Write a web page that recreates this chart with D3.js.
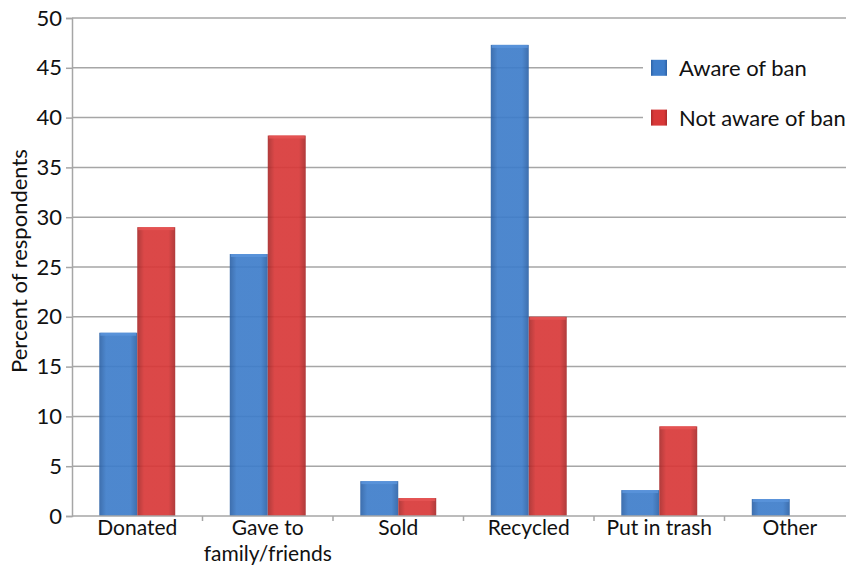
<!DOCTYPE html>
<html>
<head>
<meta charset="utf-8">
<script src="https://cdn.jsdelivr.net/npm/d3@7/dist/d3.min.js"></script>
<style>
  html, body { margin: 0; padding: 0; background: #fff; }
  svg { display: block; font-family: Lato, "Open Sans", sans-serif; }
</style>
</head>
<body>
<svg id="chart" width="846" height="566"></svg>
<script>
// Disposal method by awareness of the ban
const categories = ["Donated", "Gave to\nfamily/friends", "Sold", "Recycled", "Put in trash", "Other"];
const seriesNames = ["Aware of ban", "Not aware of ban"];
const awareValues = [18.4, 26.3, 3.5, 47.3, 2.6, 1.7];
const notAwareValues = [29.0, 38.2, 1.8, 20.0, 9.0, 0];
const yTicks = [0, 5, 10, 15, 20, 25, 30, 35, 40, 45, 50];

const svg = d3.select("#chart");
const margin = { left: 72, right: -9, top: 18, bottom: 50 };
const W = 846, H = 566;
const plotRight = W - margin.right;
const FS = 22;
const XFS = 21;

const x = d3.scaleBand().domain(categories).range([margin.left, plotRight])
  .paddingInner(0.418).paddingOuter(0.209);
const xs = d3.scaleBand().domain(seriesNames).range([0, x.bandwidth()]);
const y = d3.scaleLinear().domain([0, 50]).range([H - margin.bottom, margin.top]);

// Bar gradients
const defs = svg.append("defs");
function grad(id, edge, mid) {
  const g = defs.append("linearGradient").attr("id", id).attr("x1", 0).attr("x2", 1).attr("y1", 0).attr("y2", 0);
  g.append("stop").attr("offset", "0%").attr("stop-color", edge);
  g.append("stop").attr("offset", "18%").attr("stop-color", mid);
  g.append("stop").attr("offset", "82%").attr("stop-color", mid);
  g.append("stop").attr("offset", "100%").attr("stop-color", edge);
}
grad("gBlue", "#2d62a6", "#3e7dca");
grad("gRed", "#a92a2a", "#d83838");
const fills = { "Aware of ban": "url(#gBlue)", "Not aware of ban": "url(#gRed)" };
const tops = { "Aware of ban": "#5b95dc", "Not aware of ban": "#e65555" };

// Gridlines
svg.append("g").selectAll("line").data(yTicks.filter(d => d > 0)).join("line")
  .attr("x1", margin.left).attr("x2", W)
  .attr("y1", d => y(d)).attr("y2", d => y(d))
  .attr("stroke", "#a6a6a6").attr("stroke-width", 1.5);

// Bars
const rows = categories.map((c, i) => ({ cat: c, vals: [
  { s: seriesNames[0], v: awareValues[i] },
  { s: seriesNames[1], v: notAwareValues[i] }
] }));
const groups = svg.append("g").selectAll("g").data(rows).join("g")
  .attr("transform", d => `translate(${x(d.cat)},0)`);
const bars = groups.selectAll("g").data(d => d.vals.filter(e => e.v > 0)).join("g");
bars.append("rect")
  .attr("x", d => xs(d.s)).attr("width", xs.bandwidth())
  .attr("y", d => y(d.v)).attr("height", d => y(0) - y(d.v))
  .attr("fill", d => fills[d.s]).attr("opacity", 0.92);
bars.append("rect")
  .attr("x", d => xs(d.s) + 1).attr("width", xs.bandwidth() - 2)
  .attr("y", d => y(d.v)).attr("height", 3)
  .attr("fill", d => tops[d.s]).attr("opacity", 0.8);

// Y axis
const yAxis = svg.append("g").attr("transform", `translate(${margin.left},0)`)
  .call(d3.axisLeft(y).tickValues(yTicks).tickSize(6).tickPadding(4));
yAxis.select(".domain").attr("stroke", "#a6a6a6").attr("stroke-width", 1.5);
yAxis.selectAll(".tick line").attr("stroke", "#a6a6a6").attr("stroke-width", 1.5);
yAxis.selectAll("text").attr("font-size", FS).attr("fill", "#111").attr("font-family", "Lato, sans-serif");

// X axis
const xAxisY = y(0);
svg.append("line").attr("x1", margin.left).attr("x2", W).attr("y1", xAxisY).attr("y2", xAxisY)
  .attr("stroke", "#a6a6a6").attr("stroke-width", 1.5);
const step = x.step();
svg.append("g").selectAll("line").data(categories.slice(1)).join("line")
  .attr("x1", d => x(d) - (step - x.bandwidth()) / 2).attr("x2", d => x(d) - (step - x.bandwidth()) / 2)
  .attr("y1", xAxisY).attr("y2", xAxisY + 5)
  .attr("stroke", "#a6a6a6").attr("stroke-width", 1.5);
const xl = svg.append("g").selectAll("text").data(categories).join("text")
  .attr("x", d => x(d) + x.bandwidth() / 2).attr("y", xAxisY + 19)
  .attr("text-anchor", "middle").attr("font-size", XFS).attr("fill", "#111");
xl.selectAll("tspan").data(d => d.split("\n")).join("tspan")
  .attr("x", function () { return d3.select(this.parentNode).attr("x"); })
  .attr("dy", (d, i) => i === 0 ? 0 : 25.5).text(d => d);

// Y axis title
svg.append("text").attr("transform", `translate(27,${y(25) - 6}) rotate(-90)`)
  .attr("text-anchor", "middle").attr("font-size", FS).attr("fill", "#111")
  .text("Percent of respondents");

// Legend
const lg = svg.append("g");
lg.append("rect").attr("x", 643).attr("y", 50).attr("width", 210).attr("height", 85).attr("fill", "#fff");
const li = lg.selectAll("g").data(seriesNames).join("g")
  .attr("transform", (d, i) => `translate(651,${y(45) + i * (y(40) - y(45))})`);
li.append("rect").attr("x", 0).attr("y", -8).attr("width", 16).attr("height", 16)
  .attr("fill", d => fills[d]);
li.append("text").attr("x", 28).attr("y", 8).attr("font-size", FS).attr("fill", "#111").text(d => d);
</script>
</body>
</html>
